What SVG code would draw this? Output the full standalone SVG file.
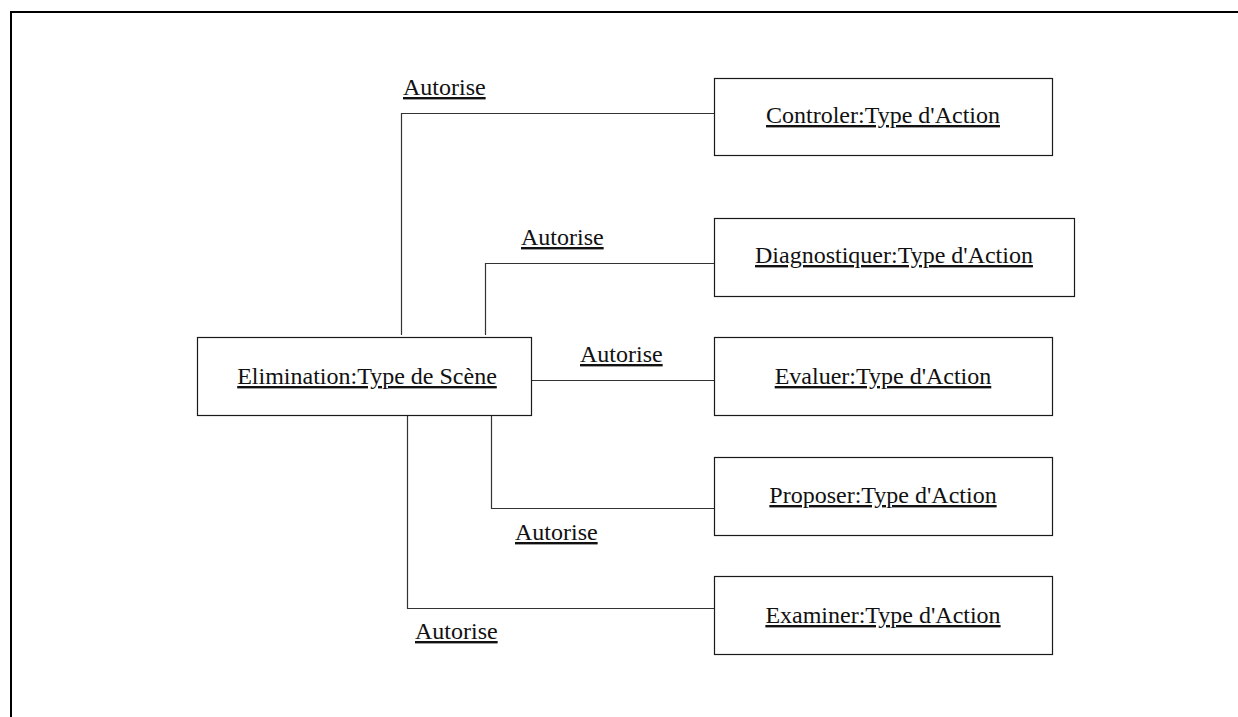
<svg xmlns="http://www.w3.org/2000/svg" width="1238" height="717" viewBox="0 0 1238 717">
  <style>
    .box { fill: #ffffff; stroke: #1a1a1a; stroke-width: 1.2; }
    .link { fill: none; stroke: #333333; stroke-width: 1.2; }
    .frame { fill: none; stroke: #000000; stroke-width: 2; }
    text { font-family: "Liberation Serif", "Times New Roman", serif; font-size: 24px; fill: #111111; text-decoration: underline; }
    .name { text-anchor: middle; }
  </style>
  <rect width="1238" height="717" fill="#ffffff"/>
  <!-- outer frame, open on the right and bottom -->
  <path class="frame" d="M11,717 V12 H1238"/>

  <g id="connectors">
    <path class="link" d="M401.5,335 V113.5 H714"/>
    <path class="link" d="M485.5,335 V263.5 H714"/>
    <path class="link" d="M531,380.5 H714"/>
    <path class="link" d="M491.5,416 V508.5 H714"/>
    <path class="link" d="M407.5,416 V608.5 H714"/>
    <text x="403" y="95">Autorise</text>
    <text x="521" y="245">Autorise</text>
    <text x="580" y="362">Autorise</text>
    <text x="515" y="540">Autorise</text>
    <text x="415" y="639">Autorise</text>
  </g>

  <g id="elimination">
    <rect class="box" x="197.5" y="337.5" width="334" height="78"/>
    <text class="name" x="367" y="384">Elimination:Type de Scène </text>
  </g>
  <g id="controler">
    <rect class="box" x="714.5" y="78.5" width="338" height="77"/>
    <text class="name" x="883" y="123">Controler:Type d'Action</text>
  </g>
  <g id="diagnostiquer">
    <rect class="box" x="714.5" y="218.5" width="360" height="78"/>
    <text class="name" x="894" y="263">Diagnostiquer:Type d'Action</text>
  </g>
  <g id="evaluer">
    <rect class="box" x="714.5" y="337.5" width="338" height="78"/>
    <text class="name" x="883" y="384">Evaluer:Type d'Action</text>
  </g>
  <g id="proposer">
    <rect class="box" x="714.5" y="457.5" width="338" height="78"/>
    <text class="name" x="883" y="503">Proposer:Type d'Action</text>
  </g>
  <g id="examiner">
    <rect class="box" x="714.5" y="576.5" width="338" height="78"/>
    <text class="name" x="883" y="623">Examiner:Type d'Action</text>
  </g>
</svg>
